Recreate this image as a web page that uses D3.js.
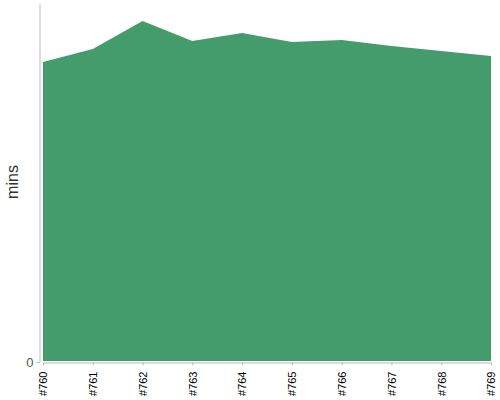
<!DOCTYPE html>
<html>
<head>
<meta charset="utf-8">
<script src="https://cdn.jsdelivr.net/npm/d3@7"></script>
<style>
body { margin: 0; background: #fff; }
svg { display: block; font-family: "Liberation Sans", Arial, sans-serif; }
.area { fill: #449b6c; }
.axis path, .axis line { stroke: #bbb; }
</style>
</head>
<body>
<svg id="chart" width="500" height="400"></svg>
<script>
// builds and durations (mins)
var builds = ["#760", "#761", "#762", "#763", "#764", "#765", "#766", "#767", "#768", "#769"];
var mins = [30.0, 31.3, 34.1, 32.1, 32.9, 32.0, 32.2, 31.6, 31.1, 30.6];
var yTicks = [0];
var yMax = 35.8;

var margin = { top: 4, right: 9, bottom: 38, left: 43 };
var width = 500 - margin.left - margin.right;
var height = 400 - margin.top - margin.bottom;

var svg = d3.select("#chart");
var g = svg.append("g")
    .attr("transform", "translate(" + margin.left + "," + margin.top + ")");

var x = d3.scalePoint().domain(builds).range([0, width]);
var y = d3.scaleLinear().domain([0, yMax]).range([height, 0]);

var area = d3.area()
    .x(function(d, i) { return x(builds[i]); })
    .y0(y(0) - 1)
    .y1(function(d) { return y(d); });

g.append("path")
    .datum(mins)
    .attr("class", "area")
    .attr("d", area);

// x axis
var xAxis = g.append("g")
    .attr("class", "axis")
    .attr("transform", "translate(0," + (height + 0.5) + ")")
    .call(d3.axisBottom(x).tickSize(3).tickSizeOuter(0));
xAxis.selectAll("text")
    .attr("transform", "rotate(-90)")
    .attr("text-anchor", "end")
    .attr("x", -9)
    .attr("y", 0)
    .attr("dy", "0.35em")
    .style("font-size", "11px")
    .style("fill", "#000");

// y axis
var yAxis = g.append("g")
    .attr("class", "axis")
    .attr("transform", "translate(-3.5,0)")
    .call(d3.axisLeft(y).tickValues(yTicks).tickSize(3).tickSizeOuter(0));
yAxis.selectAll("text")
    .attr("x", -6)
    .style("font-size", "13px")
    .style("fill", "#555");

svg.append("text")
    .attr("transform", "translate(18," + 182 + ") rotate(-90)")
    .attr("text-anchor", "middle")
    .style("font-size", "16px")
    .style("fill", "#333")
    .text("mins");
</script>
</body>
</html>
